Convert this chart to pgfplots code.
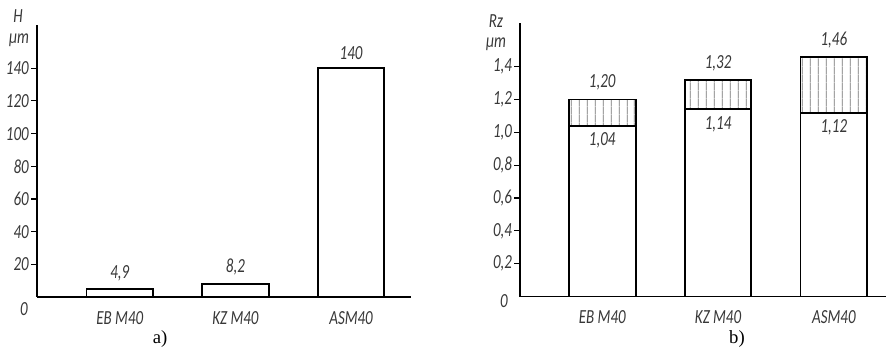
\documentclass[border=0pt]{standalone}
\usepackage{pgfplots}
\pgfplotsset{compat=1.18}
\usepackage{pgfplotstable}
\usetikzlibrary{patterns.meta}
\usepackage{fontspec}
\setmainfont{Liberation Serif}
\newfontfamily\gost{Carlito}[FakeStretch=0.75]
\newcommand\gf{\gost\itshape\fontsize{15}{17}\selectfont\color{black!78}}

\pgfplotstableread{
x val lab
0 4.9 4,9
1 8.2 8,2
2 140 140
}\dataA

\pgfplotstableread{
x low total lowlab toplab
0 1.04 1.20 1,04 1,20
1 1.14 1.32 1,14 1,32
2 1.12 1.46 1,12 1,46
}\dataB

\pgfplotsset{common/.style={
  scale only axis,
  axis lines=left,
  axis line style={-, line width=1.3pt},
  anchor=south west,
  ymin=0,
  xtick={0,1,2},
  xticklabels={EB M40, KZ M40, ASM40},
  x tick style={draw=none},
  y tick style={line width=0.8pt, black},
  tick align=outside,
  major tick length=4.5pt,
  tick label style={font=\gf},
  /pgf/number format/assume math mode=true,
  xticklabel style={inner sep=0pt, yshift=-6pt},
  yticklabel style={inner sep=0pt, xshift=-1.5pt},
  bar width=50pt,
  clip=false,
}}

\begin{document}
\begin{tikzpicture}[x=0.75pt,y=0.75pt]
\useasboundingbox (0,0) rectangle (886,348);
\begin{axis}[common, ybar,
  at={(27.75pt,38.25pt)}, width=280.3pt, height=204pt,
  xmin=-0.716, xmax=2.516, ymax=166.5,
  ytick={20,40,60,80,100,120,140}]
\addplot[fill=white, draw=black, line width=1.4pt,
  point meta=explicit symbolic, nodes near coords,
  every node near coord/.append style={font=\gf, inner sep=0pt, anchor=south, yshift=5.5pt}]
  table[x=x, y=val, meta=lab]{\dataA};
\end{axis}

\begin{axis}[common, ybar, bar shift=0pt,
  at={(390.2pt,38.6pt)}, width=274.3pt, height=205.3pt,
  xmin=-0.708, xmax=2.45, ymax=1.667,
  ytick={0.2,0.4,0.6,0.8,1.0,1.2,1.4},
  yticklabel style={/pgf/number format/.cd, use comma, fixed, fixed zerofill, precision=1}]
\addplot[pattern={Lines[angle=90,distance=5.85pt,line width=0.5pt]}, pattern color=black!55,
  draw=black, line width=1.4pt,
  point meta=explicit symbolic, nodes near coords,
  every node near coord/.append style={font=\gf, inner sep=0pt, anchor=south, yshift=6pt}]
  table[x=x, y=total, meta=toplab]{\dataB};
\addplot[fill=white, draw=black, line width=1.4pt,
  point meta=explicit symbolic, nodes near coords,
  every node near coord/.append style={font=\gf, inner sep=0pt, anchor=north, yshift=-4.5pt}]
  table[x=x, y=low, meta=lowlab]{\dataB};
\end{axis}

\node[font=\gf, inner sep=0pt] at (18,332) {H};
\node[font=\gf, inner sep=0pt] at (19,308) {μm};
\node[font=\gf, inner sep=0pt] at (24,39) {0};
\node[font=\gf, inner sep=0pt] at (496,327) {Rz};
\node[font=\gf, inner sep=0pt] at (496,304) {μm};
\node[font=\gf, inner sep=0pt] at (504,47) {0};
\node[font=\fontsize{14}{16}\selectfont, inner sep=0pt] at (160,9) {a)};
\node[font=\fontsize{14}{16}\selectfont, inner sep=0pt] at (737,9) {b)};
\end{tikzpicture}
\end{document}
